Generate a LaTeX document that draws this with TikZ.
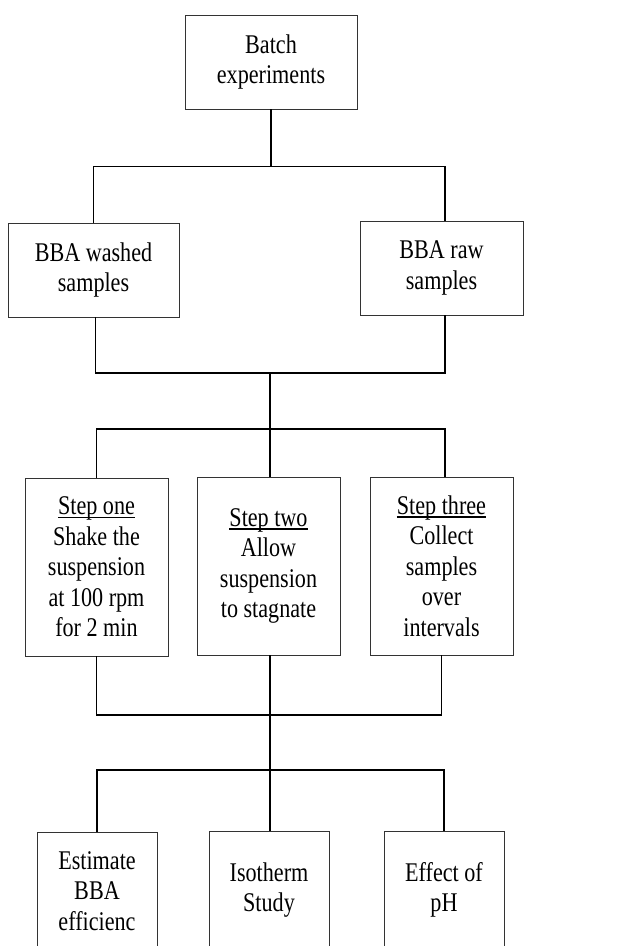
\documentclass[tikz,border=0pt]{standalone}
\usepackage{fontspec}
\setmainfont[FakeStretch=0.82]{Liberation Serif}
\usetikzlibrary{positioning,calc}
\newcommand{\stepline}[1]{\setbox0\hbox{#1}\rlap{\vrule height -2.2pt depth 3.6pt width \wd0}\box0}

\begin{document}
\begin{tikzpicture}[x=1pt,y=1pt,
  box/.style={draw=black!80,line width=0.8pt,align=center,inner sep=2pt,
              font=\fontsize{27}{30.5}\selectfont},
  topbox/.style={box,minimum width=172pt,minimum height=94pt},
  stepbox/.style={box,minimum width=143pt,minimum height=178pt},
  endbox/.style={box,minimum width=120pt,minimum height=118pt},
  link/.style={line width=1.4pt,draw=black}
]
  \useasboundingbox (0,0) rectangle (617,-946);

  \node[topbox] (batch) at (271,-62) {Batch\\experiments};
  \node[topbox,minimum width=171pt] (washed) at (93.5,-270) {BBA washed\\samples};
  \node[topbox,minimum width=163pt] (raw) at (441.5,-268) {BBA raw\\samples};

  \node[stepbox] (stepone) at (96.5,-567)
    {\stepline{Step one}\\Shake the\\suspension\\at 100 rpm\\for 2 min};
  \node[stepbox] (steptwo) at (268.5,-566)
    {\stepline{Step two}\\Allow\\suspension\\to stagnate};
  \node[stepbox] (stepthree) at (441.5,-566)
    {\stepline{Step three}\\Collect\\samples\\over\\intervals};

  \node[endbox] (estimate) at (97,-891) {Estimate\\BBA\\efficienc};
  \node[endbox] (isotherm) at (269,-890) {Isotherm\\Study};
  \node[endbox] (effect) at (444,-890) {Effect of\\pH};

  \coordinate (split1) at ([yshift=-57pt]batch.south);
  \coordinate (merge1) at (270,-373);
  \coordinate (split2) at (270,-429);
  \coordinate (merge2) at (270,-715);
  \coordinate (split3) at (270,-770);

  \draw[link] (batch.south) -- (split1);
  \draw[link] (washed.north) |- (split1) -| ([xshift=3.5pt]raw.north);
  \draw[link] ([xshift=2pt]washed.south) |- (merge1) -| ([xshift=3.5pt]raw.south);
  \draw[link] (merge1) -- (split2);
  \draw[link] (stepone.north) |- (split2) -| ([xshift=3.5pt]stepthree.north);
  \draw[link] (split2) -- (split2 |- steptwo.north);
  \draw[link] (stepone.south) |- (merge2) -| (stepthree.south);
  \draw[link] (merge2 |- steptwo.south) -- (merge2);
  \draw[link] (merge2) -- (split3);
  \draw[link] (estimate.north) |- (split3) -| (effect.north);
  \draw[link] (split3) -- (split3 |- isotherm.north);
\end{tikzpicture}
\end{document}
